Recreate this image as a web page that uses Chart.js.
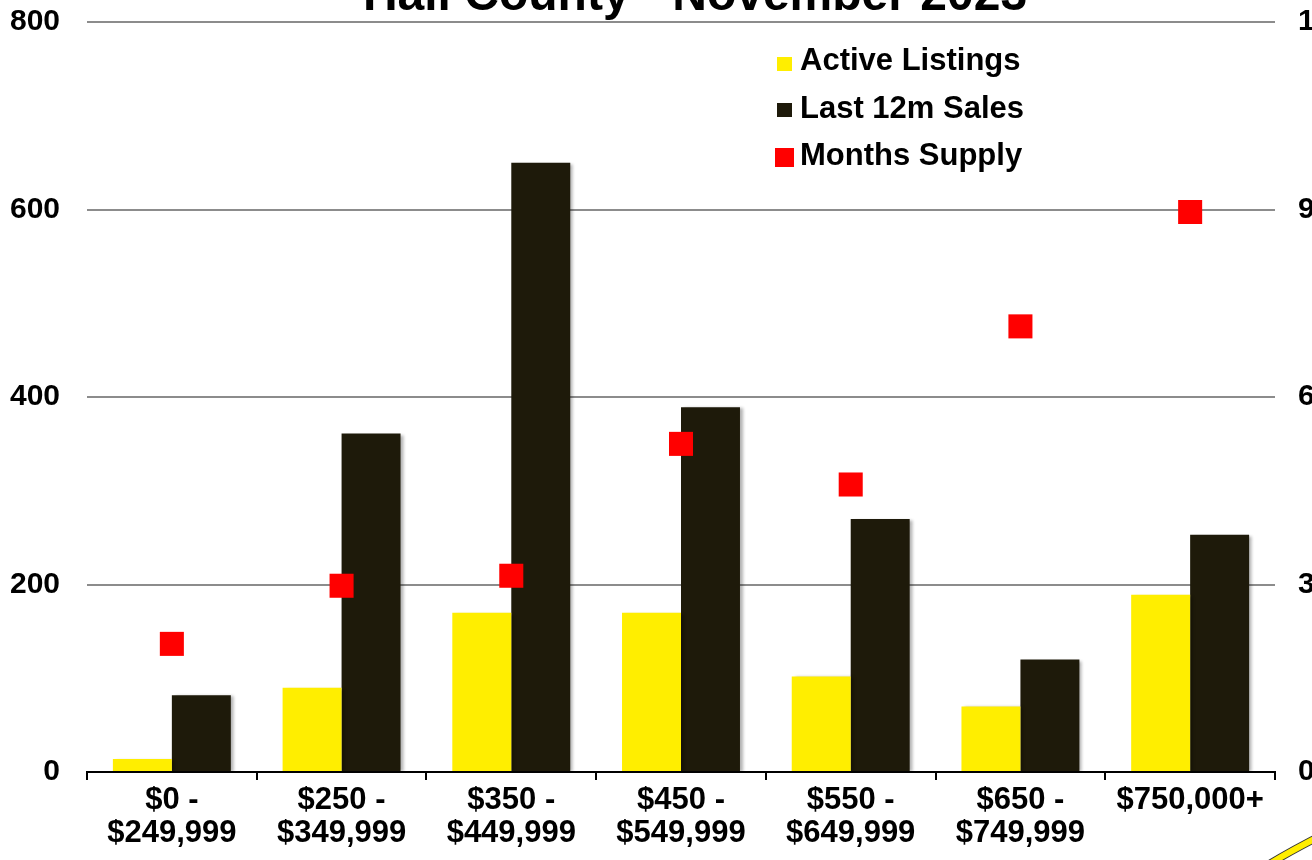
<!DOCTYPE html>
<html>
<head>
<meta charset="utf-8">
<script src="https://cdn.jsdelivr.net/npm/chart.js@4/dist/chart.umd.min.js"></script>
<style>
  html, body { margin: 0; padding: 0; background: #ffffff; overflow: hidden; width: 1312px; height: 860px; }
  #wrap { position: absolute; left: 0; top: -40px; width: 1390px; height: 902px; }
</style>
</head>
<body>
<div id="wrap"><canvas id="c"></canvas></div>
<script>
const titleText = "Hall County - November 2023";
const categories = [
  ["$0 -", "$249,999"],
  ["$250 -", "$349,999"],
  ["$350 -", "$449,999"],
  ["$450 -", "$549,999"],
  ["$550 -", "$649,999"],
  ["$650 -", "$749,999"],
  ["$750,000+"]
];
const activeListings = [14, 90, 170, 170, 102, 70, 189];
const lastSales = [82, 361, 650, 389, 270, 120, 253];
const monthsSupply = [2.05, 2.98, 3.14, 5.25, 4.6, 7.13, 8.96];
const leftTickValues = [0, 200, 400, 600, 800];
const rightTickValues = [0, 3, 6, 9, 12];

const YELLOW = "#FFEE00";
const DARK = "#1E1A0A";
const RED = "#FF0000";
const FONT = "'Liberation Sans', Arial, sans-serif";

const barShadow = {
  id: "barShadow",
  beforeDatasetDraw(chart, args) {
    if (chart.data.datasets[args.index].type === "bar") {
      const ctx = chart.ctx;
      ctx.save();
      ctx.shadowColor = "rgba(0,0,0,0.30)";
      ctx.shadowOffsetX = 3;
      ctx.shadowOffsetY = 1;
      ctx.shadowBlur = 3;
    }
  },
  afterDatasetDraw(chart, args) {
    if (chart.data.datasets[args.index].type === "bar") chart.ctx.restore();
  }
};

const customLegend = {
  id: "customLegend",
  afterDraw(chart) {
    const ctx = chart.ctx;
    const rows = [
      { box: [777, 97, 15, 14], base: 110 },
      { box: [777, 143, 15, 14], base: 158 },
      { box: [775, 188, 19, 19], base: 205 }
    ];
    ctx.save();
    ctx.font = "bold 31px " + FONT;
    ctx.textBaseline = "alphabetic";
    ctx.textAlign = "left";
    chart.data.datasets.forEach((ds, i) => {
      const r = rows[i];
      ctx.fillStyle = ds.legendColor;
      ctx.fillRect(r.box[0], r.box[1], r.box[2], r.box[3]);
      ctx.fillStyle = "#000000";
      ctx.fillText(ds.label, 800, r.base);
    });
    ctx.restore();
  }
};

const swoosh = {
  id: "swoosh",
  afterDraw(chart) {
    const ctx = chart.ctx;
    ctx.save();
    ctx.lineCap = "butt";
    ctx.beginPath();
    ctx.moveTo(1266, 906);
    ctx.quadraticCurveTo(1292, 890, 1330, 871);
    ctx.strokeStyle = "#333";
    ctx.lineWidth = 8;
    ctx.stroke();
    ctx.strokeStyle = YELLOW;
    ctx.lineWidth = 6;
    ctx.stroke();
    ctx.restore();
  }
};

new Chart(document.getElementById("c"), {
  data: {
    labels: categories,
    datasets: [
      {
        type: "bar",
        label: "Active Listings",
        data: activeListings,
        backgroundColor: YELLOW,
        legendColor: YELLOW,
        yAxisID: "y",
        order: 2,
        categoryPercentage: 0.695,
        barPercentage: 1.0
      },
      {
        type: "bar",
        label: "Last 12m Sales",
        data: lastSales,
        backgroundColor: DARK,
        legendColor: DARK,
        yAxisID: "y",
        order: 2,
        categoryPercentage: 0.695,
        barPercentage: 1.0
      },
      {
        type: "line",
        label: "Months Supply",
        data: monthsSupply,
        showLine: false,
        pointStyle: "rect",
        pointRadius: 17,
        pointHoverRadius: 17,
        pointBorderWidth: 0,
        pointBackgroundColor: RED,
        borderColor: RED,
        backgroundColor: RED,
        legendColor: RED,
        yAxisID: "y1",
        order: 0
      }
    ]
  },
  options: {
    responsive: true,
    maintainAspectRatio: false,
    animation: false,
    events: [],
    layout: { padding: 0 },
    plugins: {
      legend: { display: false },
      tooltip: { enabled: false },
      title: {
        display: true,
        text: titleText,
        color: "#000000",
        font: { family: FONT, size: 48, weight: "bold", lineHeight: 1.0 },
        padding: { top: 13, bottom: 1 }
      }
    },
    scales: {
      x: {
        offset: true,
        grid: {
          offset: true,
          drawOnChartArea: false,
          drawTicks: true,
          tickLength: 8,
          color: "#000000",
          lineWidth: 2
        },
        border: { display: true, color: "#000000", width: 2 },
        ticks: {
          color: "#000000",
          padding: 4,
          maxRotation: 0,
          autoSkip: false,
          font: { family: FONT, size: 31, weight: "bold", lineHeight: 1.07 }
        },
        afterFit(scale) { scale.height = 90; }
      },
      y: {
        position: "left",
        min: 0,
        max: 800,
        afterBuildTicks(scale) { scale.ticks = leftTickValues.map(v => ({ value: v })); },
        grid: { color: "#8c8c8c", lineWidth: 2, drawTicks: false },
        border: { display: false },
        ticks: {
          color: "#000000",
          padding: 27,
          font: { family: FONT, size: 30, weight: "bold" }
        },
        afterFit(scale) { scale.width = 87; }
      },
      y1: {
        position: "right",
        min: 0,
        max: 12,
        afterBuildTicks(scale) { scale.ticks = rightTickValues.map(v => ({ value: v })); },
        grid: { display: false, drawTicks: false },
        border: { display: false },
        ticks: {
          color: "#000000",
          padding: 23,
          font: { family: FONT, size: 30, weight: "bold" }
        },
        afterFit(scale) { scale.width = 115; }
      }
    }
  },
  plugins: [barShadow, customLegend, swoosh]
});
</script>
</body>
</html>
